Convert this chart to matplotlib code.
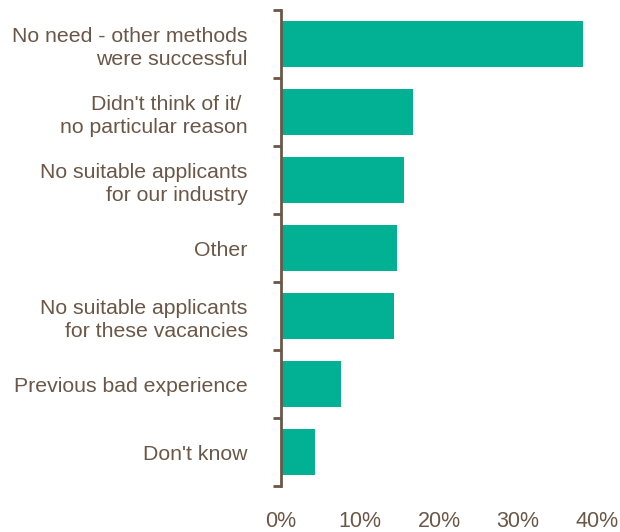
import numpy as np
import matplotlib.pyplot as plt

# 回答カテゴリと割合(%)
categories = [
    "No need - other methods\nwere successful",
    "Didn't think of it/ \nno particular reason",
    "No suitable applicants\nfor our industry",
    "Other",
    "No suitable applicants\nfor these vacancies",
    "Previous bad experience",
    "Don't know",
]
values = [38.2, 16.7, 15.6, 14.7, 14.3, 7.6, 4.3]
xticks = [0, 10, 20, 30, 40]
xtick_labels = ["0%", "10%", "20%", "30%", "40%"]

BAR_COLOR = "#02B194"
TEXT_COLOR = "#6B5747"

plt.rcParams['font.family'] = ['Liberation Sans', 'DejaVu Sans']

fig = plt.figure(figsize=(6.2, 5.32), dpi=100)
ax = fig.add_axes([281 / 620, 1 - 486 / 532, (597 - 281) / 620, (486 - 10) / 532])

n = len(categories)
y = np.arange(n)
ax.barh(y, values, height=0.69, color=BAR_COLOR)
ax.set_ylim(n - 0.5, -0.5)
ax.set_xlim(0, 40)

ax.set_yticks(y)
ax.set_yticklabels(categories, fontsize=15.3, color=TEXT_COLOR, linespacing=1.24)
ax.set_yticks(np.arange(n + 1) - 0.5, minor=True)
ax.tick_params(axis='y', which='major', length=0, pad=24)
ax.tick_params(axis='y', which='minor', length=6, width=2, color=TEXT_COLOR)

ax.set_xticks(xticks)
ax.set_xticklabels(xtick_labels, fontsize=15.5, color=TEXT_COLOR)
ax.tick_params(axis='x', length=0, pad=18)

for side in ["top", "right", "bottom"]:
    ax.spines[side].set_visible(False)
ax.spines["left"].set_color(TEXT_COLOR)
ax.spines["left"].set_linewidth(2)

fig.savefig("out.png", dpi=100)
